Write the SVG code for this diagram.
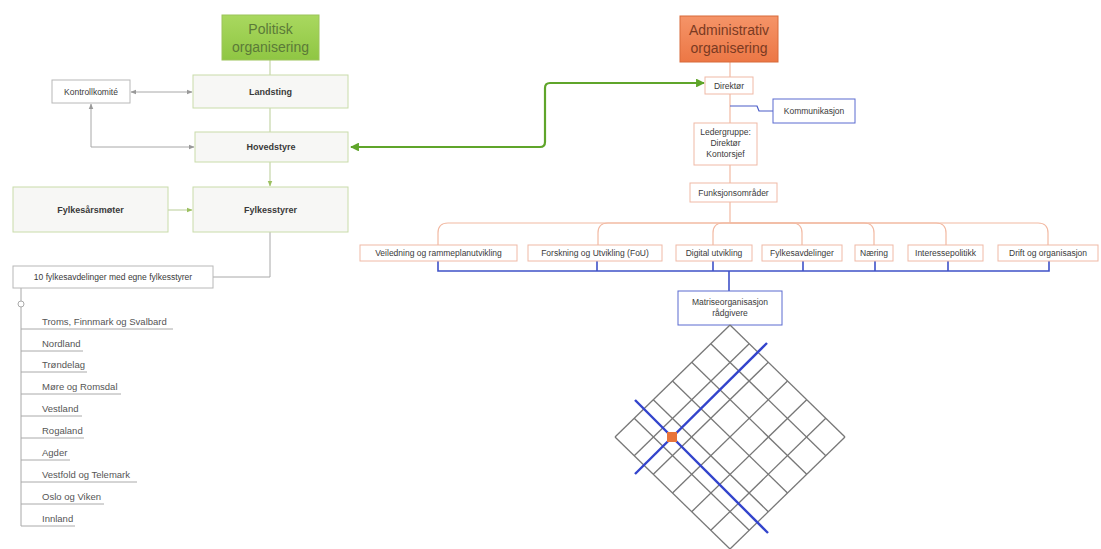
<svg xmlns="http://www.w3.org/2000/svg" width="1101" height="549" viewBox="0 0 1101 549">
<style>
text{font-family:"Liberation Sans",Arial,sans-serif;fill:#3a3a3a}
.t{font-size:8.5px;text-anchor:middle}
.b{font-size:9px;font-weight:bold;text-anchor:middle}
.l{font-size:9.5px;fill:#555}
.gbox{fill:#f7f7f5;stroke:#c9dcaa;stroke-width:1}
.kbox{fill:#fff;stroke:#b8b8b8;stroke-width:1}
.obox{fill:#fff;stroke:#f0b9a6;stroke-width:1}
.bbox{fill:#fff;stroke:#5a6ad0;stroke-width:1}
.gc{fill:none;stroke:#c5d6a8;stroke-width:1.2}
.kc{fill:none;stroke:#a8a8a8;stroke-width:1}
.oc{fill:none;stroke:#f2b9a2;stroke-width:1.2}
.bc{fill:none;stroke:#3f52c8;stroke-width:1.6}
.grid line{stroke:#777;stroke-width:1.3}
.ul{stroke:#aaa;stroke-width:1}
</style>
<defs>
<linearGradient id="gg" x1="0" y1="0" x2="0" y2="1"><stop offset="0" stop-color="#a9d85f"/><stop offset="1" stop-color="#8fc643"/></linearGradient>
<linearGradient id="og" x1="0" y1="0" x2="0" y2="1"><stop offset="0" stop-color="#f59468"/><stop offset="1" stop-color="#ec7745"/></linearGradient>
<marker id="ak" viewBox="0 0 10 10" refX="9" refY="5" markerWidth="6" markerHeight="6" orient="auto-start-reverse"><path d="M0,1 L10,5 L0,9 z" fill="#999"/></marker>
<marker id="ag" viewBox="0 0 10 10" refX="9" refY="5" markerWidth="5" markerHeight="5" orient="auto-start-reverse"><path d="M0,1 L10,5 L0,9 z" fill="#9cc060"/></marker>
<marker id="aG" viewBox="0 0 10 10" refX="9" refY="5" markerWidth="4" markerHeight="4" orient="auto-start-reverse"><path d="M0,0 L10,5 L0,10 z" fill="#5fa52a"/></marker>
</defs>

<g id="connectors">
<line class="gc" x1="270" y1="60" x2="270" y2="75"/>
<line class="gc" x1="270" y1="108" x2="270" y2="132"/>
<line class="gc" x1="270" y1="162" x2="270" y2="186" marker-end="url(#ag)"/>
<line class="gc" x1="168" y1="210" x2="192" y2="210" marker-end="url(#ag)"/>
<line class="kc" x1="131" y1="92" x2="192" y2="92" marker-start="url(#ak)" marker-end="url(#ak)"/>
<path class="kc" d="M91,104 V147 H194" marker-start="url(#ak)" marker-end="url(#ak)"/>
<path class="kc" d="M270,232 V277 H213"/>
<line class="kc" x1="21" y1="288" x2="21" y2="526"/>
<circle cx="21" cy="304" r="3" fill="#fff" stroke="#aaa" stroke-width="1"/>
<path d="M351,147 H540 Q545,147 545,142 V88 Q545,83 550,83 H704" fill="none" stroke="#5fa52a" stroke-width="2.2" marker-start="url(#aG)" marker-end="url(#aG)"/>
<line class="oc" x1="730" y1="62" x2="730" y2="77"/>
<line class="oc" x1="730" y1="94" x2="730" y2="123"/>
<line class="oc" x1="730" y1="165" x2="730" y2="183"/>
<line class="oc" x1="730" y1="202" x2="730" y2="223"/>
<path d="M730,106 H757 L759,111 H773" fill="none" stroke="#4a5cc8" stroke-width="1.2"/>
<path class="oc" d="M730,223 H448 Q438,223 438,233 V245"/>
<path class="oc" d="M730,223 H608 Q598,223 598,233 V245"/>
<path class="oc" d="M730,223 H723 Q713,223 713,233 V245"/>
<path class="oc" d="M730,223 H792 Q802,223 802,233 V245"/>
<path class="oc" d="M730,223 H864 Q874,223 874,233 V245"/>
<path class="oc" d="M730,223 H936 Q946,223 946,233 V245"/>
<path class="oc" d="M730,223 H1038 Q1048,223 1048,233 V245"/>
<path class="bc" d="M438,261 V271 H1049 V261"/>
<path class="bc" d="M597,261 V271 M713,261 V271 M803,261 V271 M875,261 V271 M948,261 V271 M729,271 V291"/>
</g>

<g id="politisk"><rect x="222" y="15" width="97" height="45" fill="url(#gg)" stroke="#9cc45a"/><text x="270.5" y="34" font-size="14" text-anchor="middle" style="fill:#5b7a38">Politisk</text><text x="270.5" y="52" font-size="14" text-anchor="middle" style="fill:#5b7a38">organisering</text></g>
<g id="landsting"><rect class="gbox" x="193" y="75" width="155" height="33"/><text class="b" x="270.5" y="95">Landsting</text></g>
<g id="kontrollkomite"><rect class="kbox" x="52" y="80" width="78" height="23"/><text class="t" x="91" y="95">Kontrollkomité</text></g>
<g id="hovedstyre"><rect class="gbox" x="195" y="132" width="153" height="30"/><text class="b" x="271" y="150">Hovedstyre</text></g>
<g id="fylkesarsmoter"><rect class="gbox" x="13" y="187" width="155" height="45"/><text class="b" x="90.5" y="213">Fylkesårsmøter</text></g>
<g id="fylkesstyrer"><rect class="gbox" x="193" y="187" width="155" height="45"/><text class="b" x="270.5" y="213">Fylkesstyrer</text></g>
<g id="fylkesavdelinger"><rect class="kbox" x="13" y="266" width="200" height="22"/><text class="t" x="113" y="280">10 fylkesavdelinger med egne fylkesstyrer</text></g>

<g id="liste">
<line class="ul" x1="21" y1="329" x2="173" y2="329"/><text class="l" x="42" y="325">Troms, Finnmark og Svalbard</text>
<line class="ul" x1="21" y1="351" x2="83" y2="351"/><text class="l" x="42" y="347">Nordland</text>
<line class="ul" x1="21" y1="372" x2="87" y2="372"/><text class="l" x="42" y="368">Trøndelag</text>
<line class="ul" x1="21" y1="394" x2="121" y2="394"/><text class="l" x="42" y="390">Møre og Romsdal</text>
<line class="ul" x1="21" y1="416" x2="82" y2="416"/><text class="l" x="42" y="412">Vestland</text>
<line class="ul" x1="21" y1="438" x2="84" y2="438"/><text class="l" x="42" y="434">Rogaland</text>
<line class="ul" x1="21" y1="460" x2="70" y2="460"/><text class="l" x="42" y="456">Agder</text>
<line class="ul" x1="21" y1="482" x2="137" y2="482"/><text class="l" x="42" y="478">Vestfold og Telemark</text>
<line class="ul" x1="21" y1="504" x2="104" y2="504"/><text class="l" x="42" y="500">Oslo og Viken</text>
<line class="ul" x1="21" y1="526" x2="75" y2="526"/><text class="l" x="42" y="522">Innland</text>
</g>

<g id="administrativ"><rect x="680" y="16" width="98" height="46" fill="url(#og)" stroke="#d86a3a"/><text x="729" y="35" font-size="14" text-anchor="middle" style="fill:#7a3a22">Administrativ</text><text x="729" y="53" font-size="14" text-anchor="middle" style="fill:#7a3a22">organisering</text></g>
<g id="direktor"><rect class="obox" x="705" y="77" width="48" height="17"/><text class="t" x="729" y="88.5">Direktør</text></g>
<g id="kommunikasjon"><rect class="bbox" x="773" y="99" width="82" height="24"/><text class="t" x="814" y="114">Kommunikasjon</text></g>
<g id="ledergruppe"><rect class="obox" x="694" y="123" width="63" height="42"/><text class="t" x="725.5" y="135">Ledergruppe:</text><text class="t" x="725.5" y="146">Direktør</text><text class="t" x="725.5" y="157">Kontorsjef</text></g>
<g id="funksjonsomrader"><rect class="obox" x="690" y="183" width="87" height="19"/><text class="t" x="733.5" y="195.5">Funksjonsområder</text></g>
<g id="veiledning"><rect class="obox" x="360" y="245" width="157" height="16"/><text class="t" x="438.5" y="256">Veiledning og rammeplanutvikling</text></g>
<g id="forskning"><rect class="obox" x="528" y="245" width="134" height="16"/><text class="t" x="595" y="256">Forskning og Utvikling (FoU)</text></g>
<g id="digital"><rect class="obox" x="676" y="245" width="76" height="16"/><text class="t" x="714" y="256">Digital utvikling</text></g>
<g id="fylkesavd"><rect class="obox" x="762" y="245" width="80" height="16"/><text class="t" x="802" y="256">Fylkesavdelinger</text></g>
<g id="naering"><rect class="obox" x="855" y="245" width="38" height="16"/><text class="t" x="874" y="256">Næring</text></g>
<g id="interessepolitikk"><rect class="obox" x="908" y="245" width="75" height="16"/><text class="t" x="945.5" y="256">Interessepolitikk</text></g>
<g id="drift"><rect class="obox" x="998" y="245" width="100" height="16"/><text class="t" x="1048" y="256">Drift og organisasjon</text></g>
<g id="matrise"><rect class="bbox" x="678" y="291" width="104" height="34"/><text class="t" x="730" y="305">Matriseorganisasjon</text><text class="t" x="730" y="316">rådgivere</text></g>

<g id="matrix-grid" class="grid">
<line x1="615" y1="437" x2="730" y2="325"/>
<line x1="634.2" y1="455.7" x2="749.2" y2="343.7"/>
<line x1="653.3" y1="474.3" x2="768.3" y2="362.3"/>
<line x1="672.5" y1="493" x2="787.5" y2="381"/>
<line x1="691.7" y1="511.7" x2="806.7" y2="399.7"/>
<line x1="710.8" y1="530.3" x2="825.8" y2="418.3"/>
<line x1="730" y1="549" x2="845" y2="437"/>
<line x1="615" y1="437" x2="730" y2="549"/>
<line x1="634.2" y1="418.3" x2="749.2" y2="530.3"/>
<line x1="653.3" y1="399.7" x2="768.3" y2="511.7"/>
<line x1="672.5" y1="381" x2="787.5" y2="493"/>
<line x1="691.7" y1="362.3" x2="806.7" y2="474.3"/>
<line x1="710.8" y1="343.7" x2="825.8" y2="455.7"/>
<line x1="730" y1="325" x2="845" y2="437"/>
<line x1="635" y1="474" x2="767" y2="343" style="stroke:#3344cc;stroke-width:2.4"/>
<line x1="635" y1="400" x2="768" y2="533" style="stroke:#3344cc;stroke-width:2.4"/>
<rect x="667" y="432" width="10" height="10" fill="#e8743a"/>
</g>
</svg>
